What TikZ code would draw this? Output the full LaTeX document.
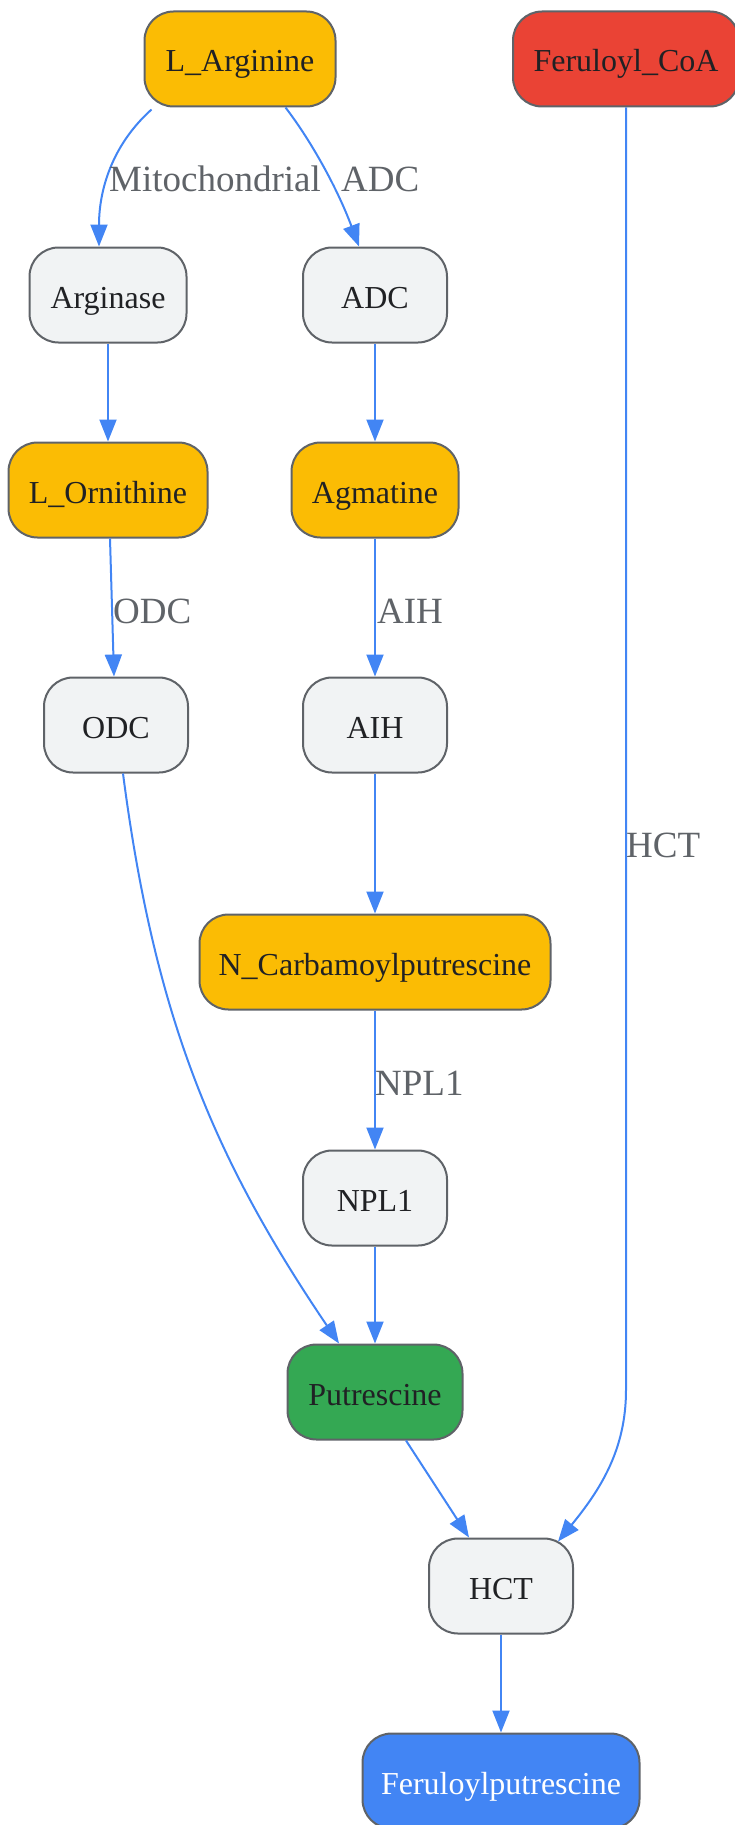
\documentclass[tikz,border=0pt]{standalone}
\usepackage{fontspec}
\setmainfont{Liberation Serif}
\usetikzlibrary{arrows.meta}
\definecolor{ebl}{HTML}{4285F4}
\definecolor{bord}{HTML}{5F6368}
\definecolor{ylw}{HTML}{FBBC04}
\definecolor{rd}{HTML}{EA4335}
\definecolor{grn}{HTML}{34A853}
\definecolor{lgr}{HTML}{F1F3F4}
\definecolor{txt}{HTML}{202124}
\definecolor{lbl}{HTML}{5F6368}
\tikzset{
  box/.style={draw=bord, line width=2pt, rounded corners=29pt, minimum height=95pt, inner sep=0pt,
    text height=28pt, text depth=2pt,
    font=\fontsize{32}{38}\selectfont, text=txt},
  met/.style={box, fill=ylw},
  enz/.style={box, fill=lgr},
  edge/.style={draw=ebl, line width=2pt, -{Triangle[length=22pt,width=17pt]}},
  elabel/.style={anchor=base west, inner sep=0pt, font=\fontsize{37}{44}\selectfont, text=lbl}
}
\begin{document}
\begin{tikzpicture}[x=1pt,y=-1pt]
\useasboundingbox (0,0) rectangle (734,1825);
\node[met, minimum width=191pt] (larg) at (240,59) {L\_Arginine};
\node[box, fill=rd, minimum width=226pt] (fcoa) at (626,59) {Feruloyl\_CoA};
\node[enz, minimum width=157pt] (argn) at (108,295) {Arginase};
\node[enz, minimum width=144pt] (adc) at (375,295) {ADC};
\node[met, minimum width=199pt] (lorn) at (108,490) {L\_Ornithine};
\node[met, minimum width=167pt] (agm) at (375,490) {Agmatine};
\node[enz, minimum width=144pt] (odc) at (116,725) {ODC};
\node[enz, minimum width=144pt] (aih) at (375,725) {AIH};
\node[met, minimum width=351pt] (ncarb) at (375,962) {N\_Carbamoylputrescine};
\node[enz, minimum width=144pt] (npl) at (375,1198) {NPL1};
\node[box, fill=grn, minimum width=175pt] (put) at (375,1392) {Putrescine};
\node[enz, minimum width=144pt] (hct) at (501,1586) {HCT};
\node[box, fill=ebl, text=white, minimum width=277pt] (ferp) at (501,1781) {Feruloylputrescine};

\draw[edge] ([xshift=8pt,yshift=-2pt]larg.south west) .. controls (112,145) and (99,190) .. ([xshift=-9pt]argn.north);
\node[elabel] (l1) at (109,191) {Mitochondrial};
\draw[edge] ([xshift=-51pt]larg.south east) .. controls (312,142) and (338,190) .. ([xshift=-16pt]adc.north);
\node[elabel] (l2) at (341,191) {ADC};
\draw[edge] (fcoa.south) -- (626,1390) .. controls (626,1450) and (600,1490) .. ([xshift=57pt,yshift=-4pt]hct.north);
\node[elabel] (l3) at (626,857) {HCT};
\draw[edge] (argn.south) -- (lorn.north);
\draw[edge] (adc.south) -- (agm.north);
\draw[edge] ([xshift=2pt]lorn.south) -- ([xshift=-2pt]odc.north);
\node[elabel] (l4) at (113,623) {ODC};
\draw[edge] (agm.south) -- (aih.north);
\node[elabel] (l5) at (377,623) {AIH};
\draw[edge] ([xshift=7pt]odc.south) .. controls (155,1020) and (215,1160) .. ([xshift=-36pt]put.north);
\draw[edge] (aih.south) -- (ncarb.north);
\draw[edge] (ncarb.south) -- (npl.north);
\node[elabel] (l6) at (375,1095) {NPL1};
\draw[edge] (npl.south) -- (put.north);
\draw[edge] ([xshift=31pt]put.south) -- ([xshift=-32pt]hct.north);
\draw[edge] (hct.south) -- (ferp.north);
\end{tikzpicture}
\end{document}
